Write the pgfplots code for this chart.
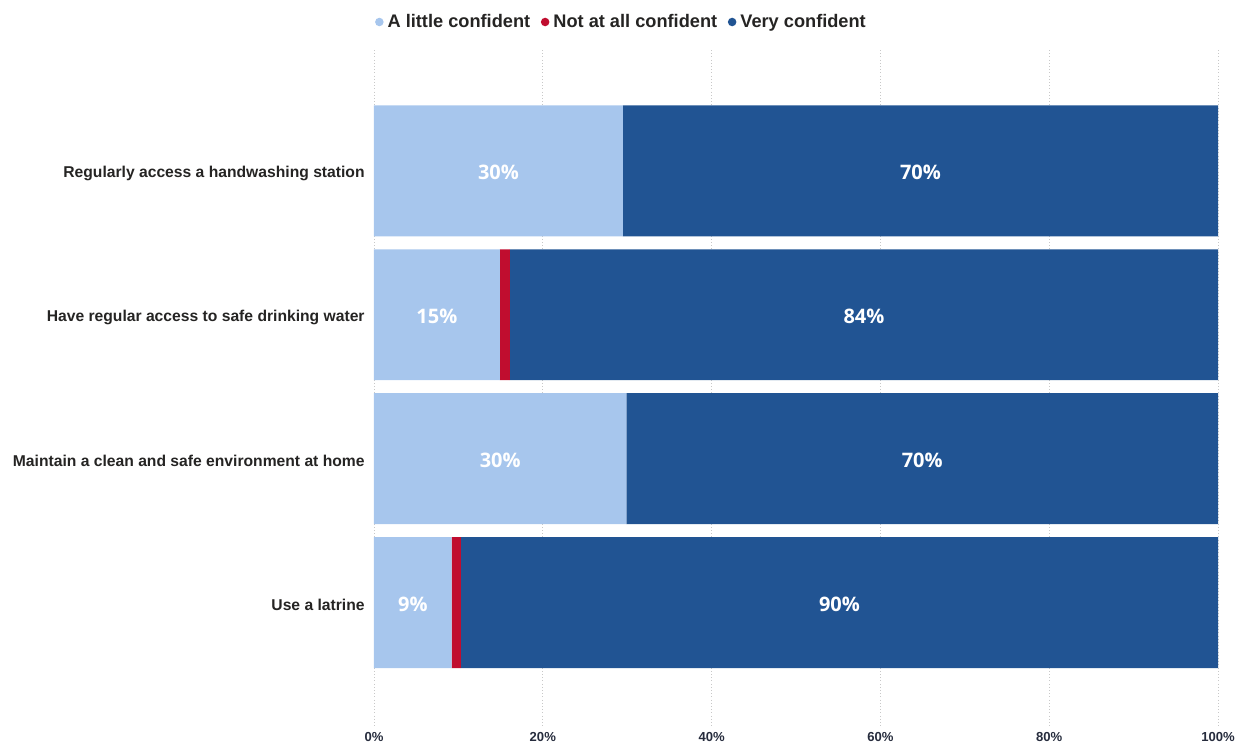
\documentclass[border=0pt]{standalone}
\usepackage{pgfplots}
\pgfplotsset{compat=1.18}
\usepackage{pgfplotstable}
\usepackage{fontspec}
\setmainfont{Liberation Sans}
\newfontfamily\opensans{Open Sans}
\definecolor{lightb}{HTML}{A7C6ED}
\definecolor{redc}{HTML}{C00D2F}
\definecolor{darkb}{HTML}{215493}
\definecolor{txt}{HTML}{252423}
\definecolor{tick}{HTML}{262C3D}
\definecolor{gridc}{HTML}{C8C8C8}

% y: 0 = top category
\pgfplotstableread{
y little notall very
0 29.5 0.0 70.5
1 14.9 1.2 83.9
2 29.9 0.0 70.1
3 9.2 1.1 89.7
}\datatable

\pgfplotstableread{
x y lab
14.75 0 30\%
64.75 0 70\%
7.45 1 15\%
58.05 1 84\%
14.95 2 30\%
64.95 2 70\%
4.6 3 9\%
55.15 3 90\%
}\labtable

\begin{document}
\begin{tikzpicture}
\useasboundingbox (-280.5pt,-12.75pt) rectangle (648.75pt,545.25pt);
\begin{axis}[
  at={(0,0)}, anchor=south west,
  scale only axis,
  width=633pt, height=507.75pt,
  xbar stacked,
  bar width=0.91,
  xmin=0, xmax=100,
  ymin=-0.84, ymax=3.865,
  y dir=reverse,
  axis line style={draw=none},
  major tick length=0pt,
  xtick={0,20,40,60,80,100},
  xticklabels={0\%,20\%,40\%,60\%,80\%,100\%},
  xticklabel style={font=\fontsize{9.8}{11}\selectfont\bfseries, text=tick, yshift=-0.5pt},
  ytick={0,1,2,3},
  yticklabels={Regularly access a handwashing station,Have regular access to safe drinking water,Maintain a clean and safe environment at home,Use a latrine},
  yticklabel style={font=\fontsize{11.75}{13}\selectfont\bfseries, text=txt, xshift=-3.5pt, yshift=-1.8pt},
  xmajorgrids,
  grid style={gridc, dotted, line width=0.6pt},
  legend columns=3,
  legend style={at={(axis description cs:0.2932,1)}, anchor=center, yshift=21pt,
    draw=none, fill=none, font=\fontsize{13.65}{15}\selectfont\bfseries, text=txt,
    /tikz/every even column/.append style={column sep=6.5pt},
    /tikz/every odd column/.append style={column sep=1.5pt},
    nodes={inner sep=1.5pt}},
  legend image code/.code={\fill[#1] (0pt,0pt) circle (3.2pt);},
  every axis plot/.append style={draw=none},
]
\addplot+[fill=lightb, draw=none] table[x=little, y=y] {\datatable};
\addlegendentry{A little confident}
\addplot+[fill=redc, draw=none] table[x=notall, y=y] {\datatable};
\addlegendentry{Not at all confident}
\addplot+[fill=darkb, draw=none] table[x=very, y=y] {\datatable};
\addlegendentry{Very confident}
\end{axis}
\begin{axis}[
  at={(0,0)}, anchor=south west,
  scale only axis,
  width=633pt, height=507.75pt,
  xmin=0, xmax=100,
  ymin=-0.84, ymax=3.865,
  y dir=reverse,
  hide axis,
]
\addplot[only marks, mark=none, nodes near coords, point meta=explicit symbolic,
  every node near coord/.append style={anchor=center, yshift=-1pt, text=white, font=\opensans\fontsize{15}{17}\selectfont\bfseries}]
  table[x=x, y=y, meta=lab] {\labtable};
\end{axis}
\end{tikzpicture}
\end{document}
